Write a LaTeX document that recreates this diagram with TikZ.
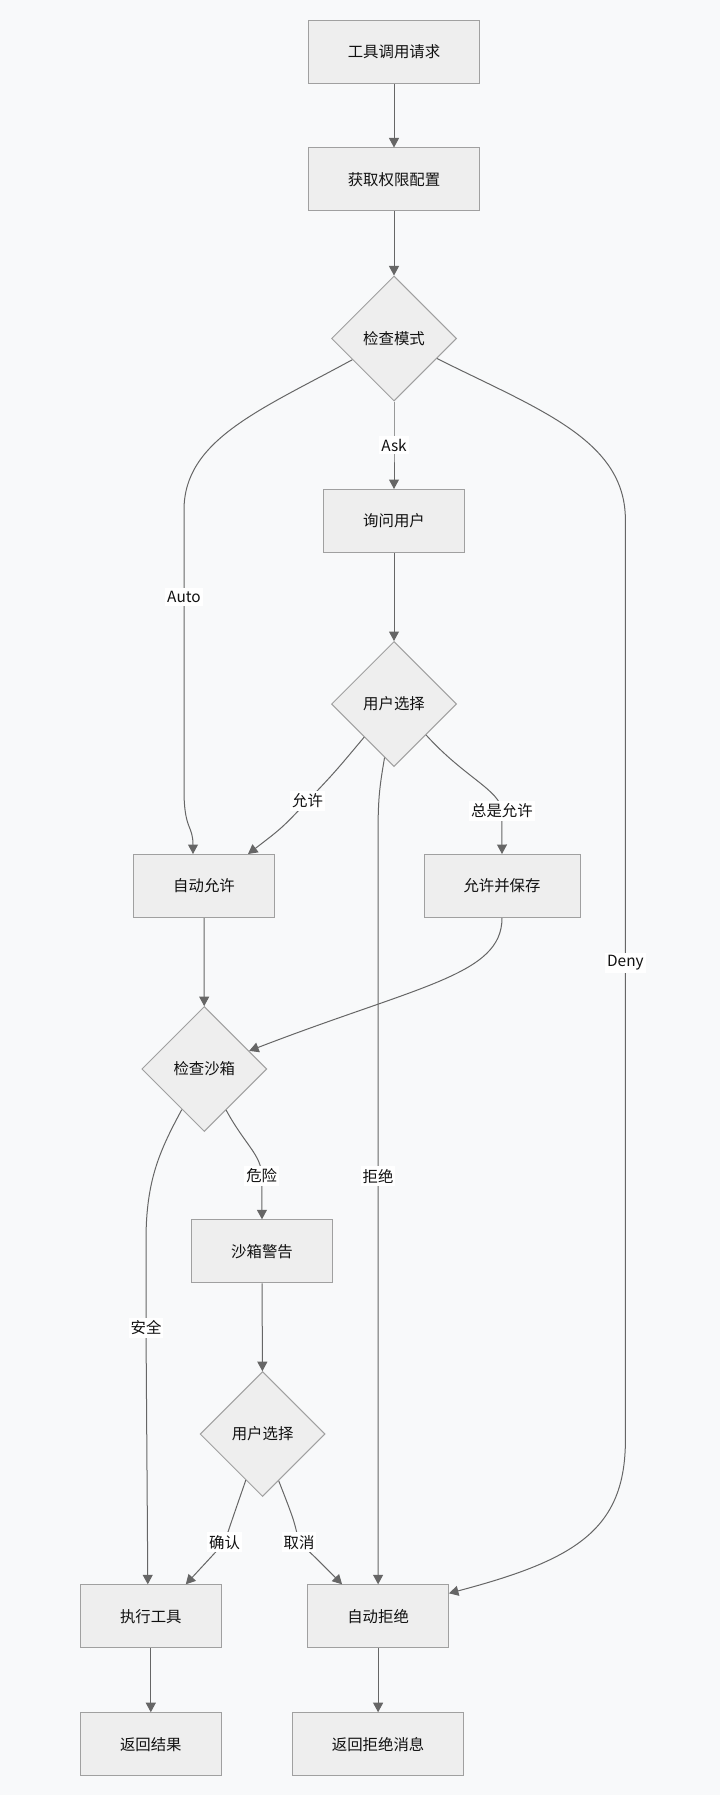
\documentclass[tikz,border=0pt]{standalone}
\usepackage{fontspec}
\setmainfont{Noto Sans CJK SC}
\usetikzlibrary{shapes.geometric,arrows.meta}
\definecolor{bgc}{HTML}{F8F9FA}
\definecolor{boxfill}{HTML}{EEEEEE}
\definecolor{boxline}{HTML}{A0A0A0}
\definecolor{edgec}{HTML}{666666}
\definecolor{txt}{HTML}{111111}
\begin{document}
\begin{tikzpicture}[x=1pt,y=-1pt,
  every node/.style={font=\fontsize{15.4}{18}\selectfont, text=txt},
  boxnode/.style={draw=boxline, fill=boxfill, line width=1pt, rectangle, minimum height=63pt, inner xsep=39.5pt, inner ysep=0pt},
  decnode/.style={draw=boxline, fill=boxfill, line width=1pt, diamond, aspect=1, minimum width=125pt, minimum height=125pt, inner sep=0pt},
  lbl/.style={fill=white, inner xsep=2pt, inner ysep=3pt},
  arr/.style={draw=edgec, line width=1pt, -{Triangle[length=9.5pt,width=10pt]}}
]
\useasboundingbox[fill=bgc] (0,0) rectangle (720,1795);

\node[boxnode] (t1) at (394,51.7) {工具调用请求};
\node[boxnode] (t2) at (394,179.5) {获取权限配置};
\node[decnode] (cm) at (394,338.5) {检查模式};
\node[boxnode] (ask) at (394,521) {询问用户};
\node[decnode] (ua) at (394,704) {用户选择};
\node[boxnode] (aa) at (204,886) {自动允许};
\node[boxnode] (us) at (502,886) {允许并保存};
\node[decnode] (cs) at (204.3,1069) {检查沙箱};
\node[boxnode] (sw) at (262,1251.3) {沙箱警告};
\node[decnode] (ub) at (262.6,1434) {用户选择};
\node[boxnode] (ex) at (150.8,1616.3) {执行工具};
\node[boxnode] (za) at (378.1,1616.3) {自动拒绝};
\node[boxnode] (rr) at (150.8,1744.2) {返回结果};
\node[boxnode] (rz) at (378.1,1744.2) {返回拒绝消息};

\draw[arr] (t1) -- (t2);
\draw[arr] (t2) -- (cm);
\draw[arr] (cm) -- (394,445) node[lbl]{Ask} -- (ask);
\draw[arr] (cm.207) .. controls (260,410) and (184,440) .. (184,510) -- (184,597) node[lbl]{Auto} -- (184,790) .. controls (184,830) and (193,825) .. ([xshift=-11pt]aa.north);
\draw[arr] (cm.335) .. controls (540,410) and (625.4,440) .. (625.4,520) -- (625.4,963) node[lbl]{Deny} -- (625.4,1440) .. controls (625.4,1530) and (575,1560) .. ([yshift=23pt]za.east);
\draw[arr] (ask) -- (ua);
\draw[arr] (ua.228) .. controls (335,772) .. (307.6,801) node[lbl]{允许} .. controls (282,828) .. ([xshift=44pt]aa.north);
\draw[arr] (ua.316) .. controls (465,778) and (500,790) .. (501.9,810.7) node[lbl]{总是允许} -- (us.north);
\draw[arr] (ua.260) .. controls (379,790) and (378,800) .. (378,840) -- (378,1176) node[lbl]{拒绝} -- (za.north);
\draw[arr] (aa) -- (cs);
\draw[arr] (us.south) .. controls (501.9,975) and (420,985) .. (cs.22);
\draw[arr] (cs.298) .. controls (245,1145) and (261.7,1155) .. (261.7,1176) node[lbl]{危险} -- (sw.north);
\draw[arr] (cs.241) .. controls (160,1150) and (146,1180) .. (146,1240) -- (146,1328) node[lbl]{安全} -- ([xshift=-3pt]ex.north);
\draw[arr] (sw) -- (ub);
\draw[arr] (ub.250) .. controls (232,1520) .. (224.5,1542.3) node[lbl]{确认} .. controls (212,1556) .. ([xshift=35pt]ex.north);
\draw[arr] (ub.289) .. controls (294,1520) .. (299,1542.3) node[lbl]{取消} .. controls (314,1556) .. ([xshift=-36pt]za.north);
\draw[arr] (ex) -- (rr);
\draw[arr] (za) -- (rz);
\end{tikzpicture}
\end{document}
